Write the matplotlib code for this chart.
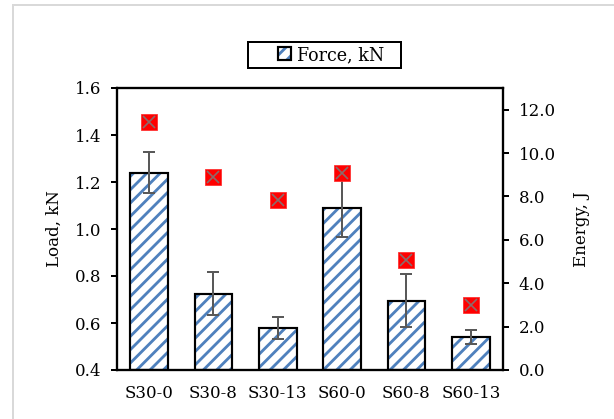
import matplotlib
matplotlib.use('Agg')
import matplotlib.pyplot as plt
from matplotlib.patches import Patch, Rectangle
from matplotlib.legend_handler import HandlerTuple
import numpy as np

# data
samples = ['S30-0', 'S30-8', 'S30-13', 'S60-0', 'S60-8', 'S60-13']
force = [1.24, 0.725, 0.578, 1.09, 0.695, 0.54]        # kN
force_err = [0.088, 0.09, 0.047, 0.122, 0.112, 0.03]   # kN
energy = [11.45, 8.92, 7.82, 9.10, 5.06, 2.99]         # J

blue = '#4F81BD'
plt.rcParams['font.family'] = 'DejaVu Serif'
plt.rcParams['font.size'] = 10
plt.rcParams['hatch.linewidth'] = 1.7

fig = plt.figure(figsize=(614/120, 419/120), dpi=120)
ax = fig.add_axes([117/614, 1-370/419, 386/614, 282/419])

x = np.arange(len(samples))
# hatch drawn in blue, outline drawn separately in black
ax.bar(x, np.array(force) - 0.4, bottom=0.4, width=0.59, color='white',
       edgecolor=blue, hatch='///', linewidth=0, zorder=2)
ax.bar(x, np.array(force) - 0.4, bottom=0.4, width=0.59, fill=False,
       edgecolor='black', linewidth=1.3, zorder=3)
ax.errorbar(x, force, yerr=force_err, fmt='none', ecolor='#595959',
            elinewidth=1.2, capsize=3.5, capthick=1.2, zorder=4)

ax.set_xlim(-0.5, 5.5)
ax.set_ylim(0.4, 1.6)
ax.set_yticks(np.arange(0.4, 1.61, 0.2))
ax.set_yticklabels(['%.1f' % v for v in np.arange(0.4, 1.61, 0.2)])
ax.set_xticks(x)
ax.set_xticklabels(samples)
ax.tick_params(axis='x', length=0, pad=9)
ax.tick_params(axis='y', direction='out', length=3.5, width=1.2, pad=6)
ax.set_ylabel('Load, kN', labelpad=7)
for s in ax.spines.values():
    s.set_linewidth(1.3)

ax2 = ax.twinx()
ax2.plot(x, energy, linestyle='none', marker='s', markersize=9.5,
         markerfacecolor='#FF0000', markeredgecolor='#FF3333', markeredgewidth=0.5)
ax2.plot(x, energy, linestyle='none', marker='x', markersize=7.5,
         markeredgecolor='#8C6A6A', markeredgewidth=1.0)
ax2.set_ylim(0, 13)
ax2.set_yticks(np.arange(0, 12.1, 2))
ax2.set_yticklabels(['%.1f' % v for v in np.arange(0, 12.1, 2)])
ax2.tick_params(axis='y', direction='out', length=3.5, width=1.2, pad=6)
ax2.set_ylabel('Energy, J', labelpad=10)
for s in ax2.spines.values():
    s.set_linewidth(1.3)

# legend box drawn as its own rectangle (wide frame in the reference)
fig.patches.append(Rectangle((248/614, 1-68/419), 153/614, 26/419, transform=fig.transFigure,
                             fill=False, edgecolor='black', linewidth=1.2))
h_hatch = Patch(facecolor='white', edgecolor=blue, hatch='///', linewidth=0)
h_edge = Patch(fill=False, edgecolor='black', linewidth=1.3)
fig.legend([(h_hatch, h_edge)], ['Force, kN'], loc='center',
           bbox_to_anchor=(331/614, 1-55/419), frameon=False,
           handler_map={tuple: HandlerTuple(ndivide=1)},
           handlelength=0.75, handleheight=0.75, handletextpad=0.3,
           borderpad=0, borderaxespad=0, fontsize=10.5)

# light grey chart-area border (left and top visible)
fig.patches.append(Rectangle((13/614, -0.1), 1.2, 1.1 - 5/419, transform=fig.transFigure,
                             fill=False, edgecolor='#D9D9D9', linewidth=1.2))

fig.savefig('out.png', dpi=120)
